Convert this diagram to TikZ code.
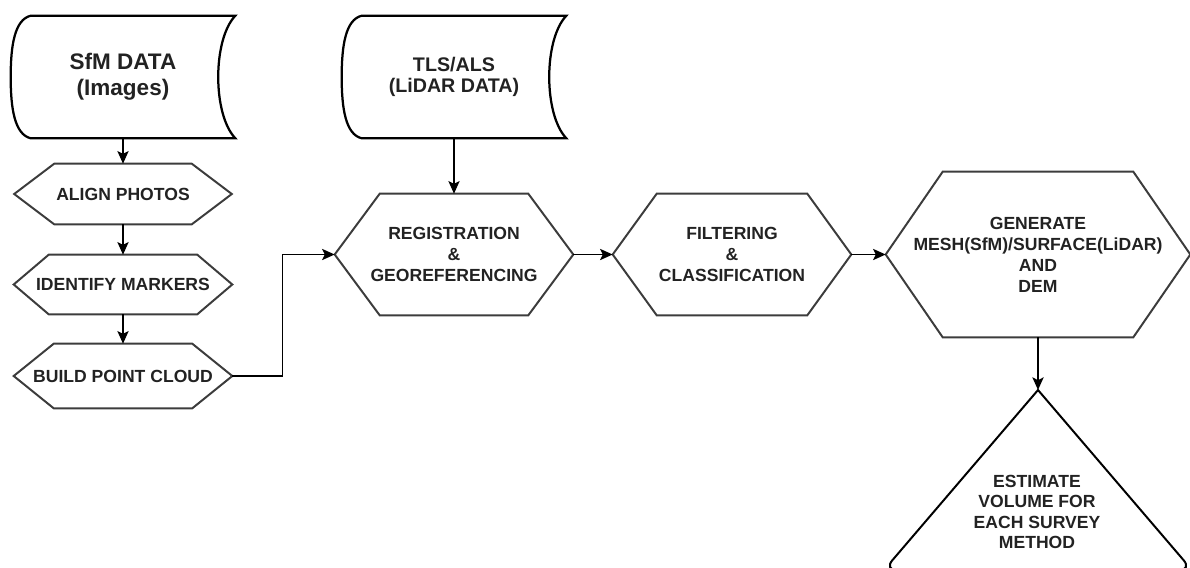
\documentclass[tikz,border=0pt]{standalone}
\usepackage{fontspec}
\setmainfont{Liberation Sans}
\usetikzlibrary{arrows.meta}
\definecolor{linegray}{HTML}{3C3C3C}
\definecolor{txtgray}{HTML}{222222}
\newcommand{\hexpath}[2]{%
\draw[hexline] (#1.west) -- ([xshift=#2]#1.north west) -- ([xshift=-#2]#1.north east) -- (#1.east) -- ([xshift=-#2]#1.south east) -- ([xshift=#2]#1.south west) -- cycle;}
\newcommand{\datapath}[1]{%
\draw[dataline] ([xshift=0.5cm]#1.north west) -- (#1.north east)
 .. controls ([xshift=-0.57cm,yshift=-0.6cm]#1.north east) and ([xshift=-0.57cm,yshift=0.6cm]#1.south east) .. (#1.south east)
 -- ([xshift=0.5cm]#1.south west)
 .. controls ([xshift=0.1cm,yshift=0.1cm]#1.south west) and ([yshift=-0.8cm]#1.west) .. (#1.west)
 .. controls ([yshift=0.8cm]#1.west) and ([xshift=0.1cm,yshift=-0.1cm]#1.north west) .. cycle;}
\begin{document}
\begin{tikzpicture}
[
x=0.025cm, y=-0.025cm,
hexbox/.style={rectangle, draw=none, inner sep=0, align=center, text=txtgray, font=\fontsize{12.5}{15}\selectfont\bfseries},
databox/.style={rectangle, draw=none, inner sep=0, align=center, text=txtgray, minimum width=5.6cm, minimum height=3.05cm},
hexline/.style={draw=linegray, line width=1.4pt, line join=miter},
dataline/.style={draw=black, line width=1.6pt},
flow/.style={-{Stealth[length=9pt,width=8pt,inset=2pt]}, line width=1pt}
]
\useasboundingbox (0,0) rectangle (1190,567);
%Nodes
\node[databox, font=\fontsize{16}{18.5}\selectfont\bfseries] at(123,77) (sfm) {SfM DATA\\(Images)};
\node[databox, font=\fontsize{14}{15.5}\selectfont\bfseries] at(454,77) (tls) {TLS/ALS\\(LiDAR DATA)};
\node[hexbox, minimum width=5.425cm, minimum height=1.5cm] at(123,194) (align) {ALIGN PHOTOS};
\node[hexbox, minimum width=5.45cm, minimum height=1.475cm] at(123,284.5) (ident) {IDENTIFY MARKERS};
\node[hexbox, minimum width=5.45cm, minimum height=1.6cm] at(123,376) (build) {BUILD POINT CLOUD};
\node[hexbox, minimum width=5.95cm, minimum height=3.025cm] at(454,254.5) (reg) {REGISTRATION\\\&\\GEOREFERENCING};
\node[hexbox, minimum width=5.95cm, minimum height=3.025cm] at(732,254.5) (filt) {FILTERING\\\&\\CLASSIFICATION};
\node[hexbox, minimum width=7.6cm, minimum height=4.125cm] at(1038,254.5) (gen) {GENERATE\\MESH(SfM)/SURFACE(LiDAR)\\AND\\DEM};
\coordinate (esttop) at(1038,390);
\node[hexbox, font=\fontsize{12.5}{14.5}\selectfont\bfseries] at(1037,512) (est) {ESTIMATE\\VOLUME FOR\\EACH SURVEY\\METHOD};

%Outlines
\datapath{sfm}
\datapath{tls}
\hexpath{align}{1.0cm}
\hexpath{ident}{0.875cm}
\hexpath{build}{1.0cm}
\hexpath{reg}{1.125cm}
\hexpath{filt}{1.1cm}
\hexpath{gen}{1.425cm}
\draw[dataline, line width=1.4pt] (esttop) [rounded corners=9pt] -- (1192,570) -- (884,570) [sharp corners] -- cycle;

%Arrows
\draw[flow] (sfm.south) -- (align.north);
\draw[flow] (align.south) -- (ident.north);
\draw[flow] (ident.south) -- (build.north);
\draw[flow] (build.east) -- ++(50,0) |- (reg.west);
\draw[flow] (tls.south) -- (reg.north);
\draw[flow] (reg.east) -- (filt.west);
\draw[flow] (filt.east) -- (gen.west);
\draw[flow] (gen.south) -- (esttop);

\end{tikzpicture}
\end{document}
